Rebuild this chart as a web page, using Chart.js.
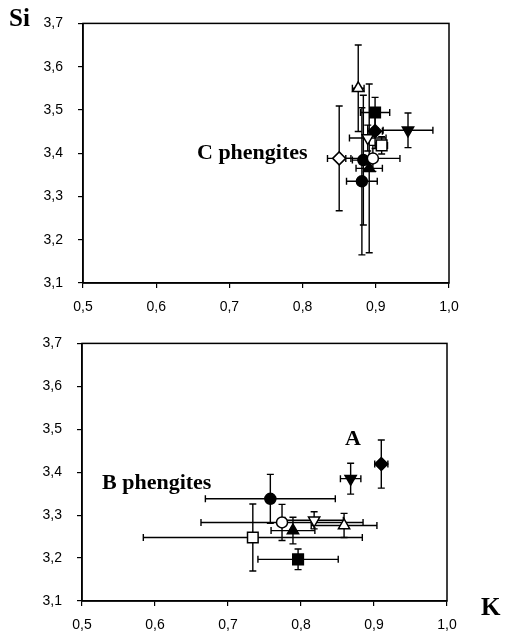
<!DOCTYPE html>
<html>
<head>
<meta charset="utf-8">
<script src="https://cdn.jsdelivr.net/npm/chart.js@4.4.0/dist/chart.umd.min.js"></script>
<style>
  body { margin: 0; background: #fff; }
  #wrap { position: relative; width: 508px; height: 632px; overflow: hidden; }
  .box { position: absolute; left: 0; width: 508px; }
  .lbl { position: absolute; font-family: "Liberation Serif", "Times New Roman", serif; font-weight: bold; color: #000; white-space: nowrap; }
</style>
</head>
<body>
<div id="wrap">
  <div class="box" style="top:0;height:320px"><canvas id="topChart"></canvas></div>
  <div class="box" style="top:320px;height:312px"><canvas id="bottomChart"></canvas></div>
  <div class="lbl" style="left:9px;top:5px;font-size:25px;line-height:25px">Si</div>
  <div class="lbl" style="left:481px;top:594px;font-size:25px;line-height:25px">K</div>
  <div class="lbl" style="left:197px;top:141px;font-size:22px;line-height:22px">C phengites</div>
  <div class="lbl" style="left:102px;top:471px;font-size:22px;line-height:22px">B phengites</div>
  <div class="lbl" style="left:345px;top:427px;font-size:22px;line-height:22px">A</div>
</div>
<script>
// axis ticks
const kTicks = [0.5, 0.6, 0.7, 0.8, 0.9, 1.0];
const siTicks = [3.1, 3.2, 3.3, 3.4, 3.5, 3.6, 3.7];

// C phengites (top panel)
const topNames = ['open triangle', 'filled square', 'filled triangle down', 'filled diamond', 'open square',
  'open triangle down', 'open diamond', 'open circle', 'filled circle', 'filled triangle', 'filled circle 2'];
const topK = [0.876, 0.899, 0.944, 0.899, 0.908, 0.889, 0.850, 0.896, 0.883, 0.891, 0.881];
const topSi = [3.550, 3.494, 3.453, 3.451, 3.418, 3.435, 3.388, 3.388, 3.384, 3.365, 3.335];
const topKErr = [0.008, 0.020, 0.034, 0.010, 0.008, 0.025, 0.016, 0.037, 0.015, 0.018, 0.021];
const topSiErr = [0.100, 0.035, 0.040, 0.040, 0.020, 0.030, 0.121, 0.030, 0.150, 0.195, 0.170];

// B phengites and A (bottom panel)
const botNames = ['filled diamond', 'filled triangle down', 'filled circle', 'open circle', 'filled triangle',
  'open triangle down', 'open triangle', 'open square', 'filled square'];
const botK = [0.910, 0.868, 0.758, 0.774, 0.789, 0.818, 0.859, 0.734, 0.796];
const botSi = [3.419, 3.385, 3.338, 3.283, 3.264, 3.288, 3.276, 3.248, 3.197];
const botKErr = [0.009, 0.014, 0.089, 0.111, 0.030, 0.040, 0.045, 0.150, 0.055];
const botSiErr = [0.056, 0.036, 0.057, 0.042, 0.031, 0.020, 0.028, 0.078, 0.024];

// marker looks by name
const markerLook = {
  'open triangle': ['triangle', 0, false],
  'filled triangle': ['triangle', 0, true],
  'open triangle down': ['triangle', 180, false],
  'filled triangle down': ['triangle', 180, true],
  'open square': ['rect', 0, false],
  'filled square': ['rect', 0, true],
  'open diamond': ['rectRot', 0, false],
  'filled diamond': ['rectRot', 0, true],
  'open circle': ['circle', 0, false],
  'filled circle': ['circle', 0, true],
  'filled circle 2': ['circle', 0, true]
};
const radiusOf = { circle: 5.5, rect: 7.5, rectRot: 6.5, triangle: 6.5 };

function makeDatasets(names, xs, ys, xe, ye) {
  return names.map((n, i) => {
    const [style, rot, filled] = markerLook[n];
    return {
      label: n,
      data: [{ x: xs[i], y: ys[i], xe: xe[i], ye: ye[i] }],
      pointStyle: style,
      rotation: rot,
      radius: radiusOf[style],
      borderWidth: 1.5,
      borderColor: '#000',
      backgroundColor: filled ? '#000' : '#fff'
    };
  });
}

const errorBars = {
  id: 'errorBars',
  beforeDatasetsDraw(chart) {
    const { ctx, scales: { x, y } } = chart;
    const cap = 3.5;
    ctx.save();
    ctx.strokeStyle = '#000';
    ctx.lineWidth = 1.4;
    chart.data.datasets.forEach(ds => {
      ds.data.forEach(p => {
        const px = x.getPixelForValue(p.x), py = y.getPixelForValue(p.y);
        const xl = x.getPixelForValue(p.x - p.xe), xr = x.getPixelForValue(p.x + p.xe);
        const yt = y.getPixelForValue(p.y + p.ye), yb = y.getPixelForValue(p.y - p.ye);
        ctx.beginPath();
        ctx.moveTo(xl, py); ctx.lineTo(xr, py);
        ctx.moveTo(xl, py - cap); ctx.lineTo(xl, py + cap);
        ctx.moveTo(xr, py - cap); ctx.lineTo(xr, py + cap);
        ctx.moveTo(px, yt); ctx.lineTo(px, yb);
        ctx.moveTo(px - cap, yt); ctx.lineTo(px + cap, yt);
        ctx.moveTo(px - cap, yb); ctx.lineTo(px + cap, yb);
        ctx.stroke();
      });
    });
    ctx.restore();
  }
};

const frame = {
  id: 'frame',
  beforeDatasetsDraw(chart) {
    const { ctx, chartArea: a } = chart;
    ctx.save();
    ctx.strokeStyle = '#000';
    ctx.lineWidth = 1.5;
    ctx.strokeRect(a.left, a.top, a.right - a.left, a.bottom - a.top);
    ctx.restore();
  }
};

const fmt = v => v.toFixed(1).replace('.', ',');
const tickFont = { family: '"Liberation Sans", Arial, sans-serif', size: 14 };

function makeChart(id, datasets, pad) {
  return new Chart(document.getElementById(id), {
    type: 'scatter',
    data: { datasets },
    plugins: [frame, errorBars],
    options: {
      responsive: true,
      maintainAspectRatio: false,
      animation: false,
      layout: { padding: pad },
      plugins: { legend: { display: false }, tooltip: { enabled: false } },
      scales: {
        x: {
          min: kTicks[0], max: kTicks[kTicks.length - 1],
          afterBuildTicks: s => { s.ticks = kTicks.map(v => ({ value: v })); },
          afterFit: s => { s.height = 30; },
          grid: { drawOnChartArea: false, tickLength: 5, color: '#000', lineWidth: 1.2 },
          border: { color: '#000', width: 1.5 },
          ticks: { color: '#000', font: tickFont, padding: 11, maxRotation: 0, callback: fmt }
        },
        y: {
          min: siTicks[0], max: siTicks[siTicks.length - 1],
          afterBuildTicks: s => { s.ticks = siTicks.map(v => ({ value: v })); },
          afterFit: s => { s.width = 45; },
          grid: { drawOnChartArea: false, tickLength: 5, color: '#000', lineWidth: 1.2 },
          border: { color: '#000', width: 1.5 },
          ticks: { color: '#000', font: tickFont, padding: 15, callback: fmt }
        }
      }
    }
  });
}

makeChart('topChart', makeDatasets(topNames, topK, topSi, topKErr, topSiErr),
  { left: 38, top: 23, right: 59, bottom: 7 });
makeChart('bottomChart', makeDatasets(botNames, botK, botSi, botKErr, botSiErr),
  { left: 37, top: 22, right: 61, bottom: 1 });
</script>
</body>
</html>
